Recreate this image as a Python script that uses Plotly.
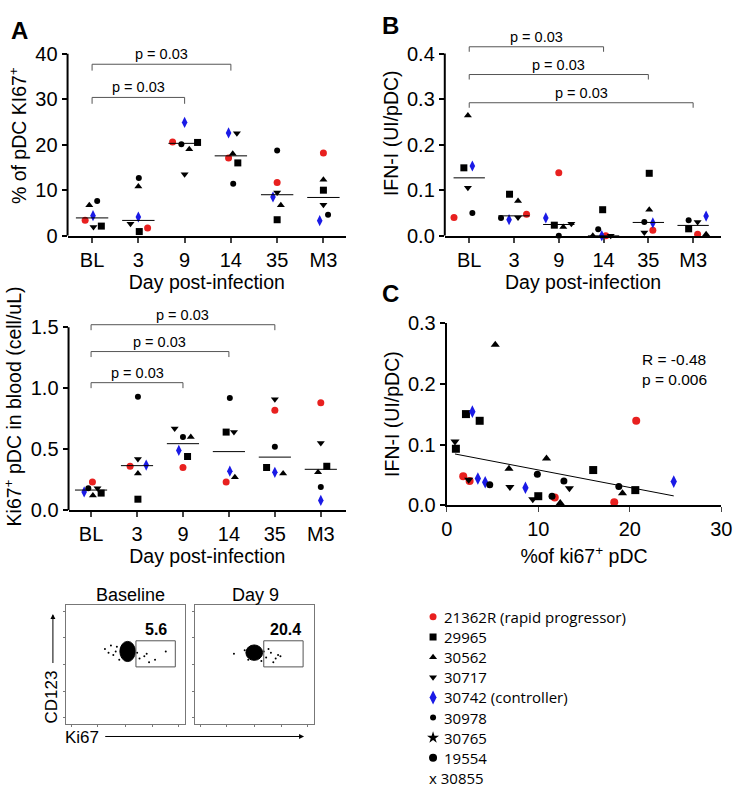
import numpy as np
import plotly.graph_objects as go

W, H = 747, 800
days = ["BL", "3", "9", "14", "35", "M3"]
subjects = ["21362R", "29965", "30562", "30717", "30742", "30978"]
symbols = ["circle", "square", "triangle-up", "triangle-down", "diamond-tall", "circle"]
colors = ["#e8201f", "black", "black", "black", "#1a1ae6", "black"]
sizes = [7, 7, 7, 7, 8, 6]

# Panel A top: % of pDC Ki67+ (per subject, per day)
ki67_pct = {
    "21362R": [3.4, 1.7, 20.6, 17.1, 11.7, 18.2],
    "29965":  [2.1, 0.9, 20.5, 16.0, 3.5, 10.0],
    "30562":  [6.7, 10.8, 19.0, 18.0, 6.7, 12.3],
    "30717":  [1.9, 2.6, 13.5, 22.5, 9.5, 6.8],
    "30742":  [4.4, 4.1, 24.9, 22.6, 8.5, 3.3],
    "30978":  [7.6, 12.7, 20.1, 11.4, 18.7, 4.6],
}
ki67_pct_jit = {
    "21362R": [-0.15, 0.2, -0.26, -0.05, 0.0, 0.0],
    "29965":  [0.2, 0.02, 0.28, 0.15, 0.0, 0.0],
    "30562":  [-0.06, 0.0, 0.1, 0.04, 0.08, 0.0],
    "30717":  [0.03, -0.17, 0.0, 0.13, 0.0, 0.0],
    "30742":  [0.02, 0.0, 0.0, -0.05, -0.09, -0.08],
    "30978":  [0.11, 0.01, -0.07, 0.05, 0.0, 0.1],
}
# Panel A bottom: Ki67+ pDC in blood (cell/uL)
ki67_abs = {
    "21362R": [0.23, 0.36, 0.35, 0.23, 0.82, 0.88],
    "29965":  [0.14, 0.09, 0.44, 0.64, 0.35, 0.36],
    "30562":  [0.12, 0.30, 0.60, 0.27, 0.30, 0.31],
    "30717":  [0.18, 0.42, 0.67, 0.64, 0.91, 0.55],
    "30742":  [0.15, 0.37, 0.49, 0.32, 0.31, 0.08],
    "30978":  [0.18, 0.93, 0.60, 0.92, 0.52, 0.19],
}
ki67_abs_jit = {
    "21362R": [0.03, -0.15, 0.0, -0.06, 0.0, 0.0],
    "29965":  [0.22, 0.02, 0.1, -0.06, -0.18, 0.13],
    "30562":  [0.04, 0.02, 0.17, 0.13, 0.18, -0.06],
    "30717":  [0.14, 0.02, -0.18, 0.11, 0.0, 0.0],
    "30742":  [-0.15, 0.2, -0.09, 0.02, 0.0, 0.0],
    "30978":  [-0.06, 0.02, 0.0, 0.02, 0.0, 0.0],
}
# Panel B: IFN-I (UI/pDC)
ifn = {
    "21362R": [0.040, 0.047, 0.138, 0.000, 0.012, 0.003],
    "29965":  [0.149, 0.091, 0.023, 0.057, 0.137, 0.015],
    "30562":  [0.264, 0.076, 0.019, 0.000, 0.057, 0.003],
    "30717":  [0.105, 0.040, 0.026, 0.000, 0.007, 0.030],
    "30742":  [0.153, 0.035, 0.039, 0.000, 0.028, 0.043],
    "30978":  [0.050, 0.039, 0.000, 0.014, 0.030, 0.034],
}
ifn_jit = {
    "21362R": [-0.34, 0.28, 0.0, 0.05, 0.1, 0.1],
    "29965":  [-0.12, -0.1, -0.1, -0.02, 0.02, -0.1],
    "30562":  [-0.03, 0.09, 0.1, -0.24, 0.02, 0.29],
    "30717":  [-0.03, 0.09, 0.28, 0.16, -0.09, 0.1],
    "30742":  [0.07, -0.11, -0.29, -0.04, 0.1, 0.29],
    "30978":  [0.07, -0.29, 0.0, -0.12, -0.09, -0.1],
}
# Panel C: %Ki67+ pDC vs IFN-I
c_x = {
    "21362R": [20.7, 1.8, 2.5, 11.8, 18.3],
    "29965":  [2.1, 3.6, 1.0, 10.0, 16.0, 20.6],
    "30562":  [5.3, 6.8, 10.9, 12.4, 19.2],
    "30717":  [0.9, 2.4, 6.9, 9.4, 13.4],
    "30742":  [2.8, 3.4, 4.2, 8.6, 24.8],
    "30978":  [4.7, 9.9, 11.5, 12.8, 18.8],
}
c_y = {
    "21362R": [0.139, 0.048, 0.040, 0.013, 0.005],
    "29965":  [0.150, 0.139, 0.093, 0.015, 0.058, 0.025],
    "30562":  [0.264, 0.060, 0.077, 0.004, 0.020],
    "30717":  [0.105, 0.042, 0.030, 0.010, 0.028],
    "30742":  [0.154, 0.044, 0.038, 0.029, 0.039],
    "30978":  [0.034, 0.051, 0.015, 0.040, 0.031],
}
legend_labels = ["21362R (rapid progressor)", "29965", "30562", "30717", "30742 (controller)",
                 "30978", "30765", "19554", "30855"]
legend_symbols = ["circle", "square", "triangle-up", "triangle-down", "diamond-tall",
                  "circle", "star", "circle", None]
legend_colors = ["#e8201f", "black", "black", "black", "#1a1ae6", "black", "black", "black", "black"]
legend_sizes = [7, 7, 7, 7, 10, 6, 9, 8, 0]

# flow sparse events (x,y in box fractions)
flow_bl_x = [0.33, 0.36, 0.40, 0.43, 0.62, 0.66, 0.70, 0.75, 0.84, 0.45, 0.60, 0.38, 0.42, 0.68]
flow_bl_y = [0.63, 0.60, 0.58, 0.65, 0.55, 0.57, 0.52, 0.54, 0.61, 0.54, 0.60, 0.66, 0.61, 0.59]
flow_d9_x = [0.33, 0.42, 0.60, 0.64, 0.68, 0.70, 0.62, 0.66, 0.58, 0.45, 0.72, 0.56]
flow_d9_y = [0.59, 0.62, 0.56, 0.60, 0.55, 0.58, 0.63, 0.52, 0.61, 0.54, 0.57, 0.53]

FONT = "Liberation Sans, Arial, sans-serif"
fig = go.Figure()

def px_x(a, b):
    return [a / W, b / W]

def px_y(top, bottom):
    return [1 - bottom / H, 1 - top / H]

def dot_panel(xa, ya, data, jit):
    for k, s in enumerate(subjects):
        xs = [i + jit[s][i] for i in range(6)]
        fig.add_trace(go.Scatter(x=xs, y=data[s], mode="markers", xaxis=xa, yaxis=ya,
                                 cliponaxis=False, showlegend=False,
                                 marker=dict(symbol=symbols[k], color=colors[k], size=sizes[k])))
    for i in range(6):
        med = float(np.median([data[s][i] for s in subjects]))
        fig.add_trace(go.Scatter(x=[i - 0.35, i + 0.35], y=[med, med], mode="lines",
                                 xaxis=xa, yaxis=ya, showlegend=False,
                                 line=dict(color="black", width=1)))

dot_panel("x", "y", ki67_pct, ki67_pct_jit)
dot_panel("x2", "y2", ki67_abs, ki67_abs_jit)
dot_panel("x3", "y3", ifn, ifn_jit)

allx, ally = [], []
for k, s in enumerate(subjects):
    fig.add_trace(go.Scatter(x=c_x[s], y=c_y[s], mode="markers", xaxis="x4", yaxis="y4",
                             cliponaxis=False, showlegend=False,
                             marker=dict(symbol=symbols[k], color=colors[k], size=sizes[k] + 1)))
    allx += c_x[s]; ally += c_y[s]
m, b = np.polyfit(allx, ally, 1)
lx = np.array([min(allx), max(allx)])
fig.add_trace(go.Scatter(x=lx, y=m * lx + b, mode="lines", xaxis="x4", yaxis="y4",
                         showlegend=False, line=dict(color="black", width=1)))

# flow events
fig.add_trace(go.Scatter(x=flow_bl_x, y=flow_bl_y, mode="markers", xaxis="x5", yaxis="y5",
                         showlegend=False, marker=dict(color="black", size=2)))
fig.add_trace(go.Scatter(x=flow_d9_x, y=flow_d9_y, mode="markers", xaxis="x6", yaxis="y6",
                         showlegend=False, marker=dict(color="black", size=2)))

# legend (overlay axis in page pixels)
for i, lab in enumerate(legend_labels):
    yy = 623 + i * 20.7
    if legend_symbols[i]:
        fig.add_trace(go.Scatter(x=[437], y=[yy], mode="markers", xaxis="x7", yaxis="y7",
                                 showlegend=False, marker=dict(symbol=legend_symbols[i],
                                 color=legend_colors[i], size=legend_sizes[i])))
        txt = lab
        xx = 446
    else:
        txt = "x " + lab
        xx = 431
    fig.add_annotation(x=xx, y=yy, xref="x7", yref="y7", text=txt, showarrow=False,
                       xanchor="left", yanchor="middle",
                       font=dict(family="Open Sans, sans-serif", size=15, color="black"))

TICK = dict(size=20, family=FONT, color="black")
TITLE = dict(size=19.5, family=FONT, color="black")
cat_axis = dict(tickmode="array", tickvals=list(range(6)), ticktext=days, showline=True,
                linecolor="black", linewidth=2, ticks="outside", ticklen=5, tickwidth=1.5,
                tickfont=TICK, showgrid=False, zeroline=False,
                title=dict(text="Day post-infection", font=TITLE, standoff=2))
def val_axis(rng, tv, tt, title):
    return dict(range=rng, tickmode="array", tickvals=tv, ticktext=tt, showline=False,
                ticks="outside", ticklen=5, tickwidth=1.5, tickcolor="black",
                tickfont=TICK, showgrid=False, zeroline=False,
                title=dict(text=title, font=TITLE, standoff=3))

layout = dict(
    width=W, height=H, margin=dict(l=0, r=0, t=0, b=0),
    plot_bgcolor="rgba(0,0,0,0)", paper_bgcolor="white",
    xaxis=dict(cat_axis, domain=px_x(63, 348), range=[-0.53, 5.49], anchor="y"),
    yaxis=dict(val_axis([0, 44], [0, 10, 20, 30, 40], ["0", "10", "20", "30", "40"],
                        "% of pDC KI67<sup>+</sup>"), domain=px_y(25.3, 231), anchor="x"),
    xaxis2=dict(cat_axis, domain=px_x(64, 348), range=[-0.49, 5.55], anchor="y2"),
    yaxis2=dict(val_axis([0, 1.7], [0, 0.5, 1.0, 1.5], ["0.0", "0.5", "1.0", "1.5"],
                         "Ki67<sup>+</sup> pDC in blood (cell/uL)"), domain=px_y(300, 513.3), anchor="x2"),
    xaxis3=dict(cat_axis, domain=px_x(449, 732), range=[-0.546, 5.63], anchor="y3"),
    yaxis3=dict(val_axis([0, 0.45], [0, 0.1, 0.2, 0.3, 0.4], ["0.0", "0.1", "0.2", "0.3", "0.4"],
                         "IFN-I (UI/pDC)"), domain=px_y(20.4, 231), anchor="x3"),
    xaxis4=dict(range=[0, 30], domain=px_x(451, 732), anchor="y4", tickvals=[0, 10, 20, 30],
                showline=True, linecolor="black", linewidth=2, ticks="outside", ticklen=5,
                tickfont=TICK, showgrid=False, zeroline=False,
                title=dict(text="%of ki67<sup>+</sup> pDC", font=TITLE, standoff=10)),
    yaxis4=dict(val_axis([0, 0.3], [0, 0.1, 0.2, 0.3], ["0.0", "0.1", "0.2", "0.3"], "IFN-I (UI/pDC)"),
                domain=px_y(320.7, 508.3), anchor="x4", showline=True, linecolor="black", linewidth=2),
)
flow_ax = dict(range=[0, 1], showline=True, mirror=True, linecolor="#777", linewidth=1,
               ticks="outside", ticklen=2, tickcolor="#777", tickvals=[0.05, 0.27, 0.5, 0.73, 0.95],
               showticklabels=False, showgrid=False, zeroline=False, fixedrange=True)
layout["xaxis5"] = dict(flow_ax, domain=px_x(61, 183), anchor="y5")
layout["yaxis5"] = dict(flow_ax, domain=px_y(611, 733), anchor="x5")
layout["xaxis6"] = dict(flow_ax, domain=px_x(193, 315), anchor="y6")
layout["yaxis6"] = dict(flow_ax, domain=px_y(611, 733), anchor="x6")
layout["xaxis7"] = dict(range=[0, W], domain=[0, 1], visible=False, anchor="y7")
layout["yaxis7"] = dict(range=[H, 0], domain=[0, 1], visible=False, anchor="x7")
fig.update_layout(**layout)

# y-axis lines drawn only up to top tick
for ya, xa, top in [("y", "x", 40), ("y2", "x2", 1.5), ("y3", "x3", 0.4)]:
    fig.add_shape(type="line", xref=xa + " domain", yref=ya, x0=0, x1=0, y0=0, y1=top,
                  line=dict(color="black", width=2))

def bracket(xa, ya, i0, i1, level, drop, gap):
    fig.add_shape(type="path", xref=xa, yref=ya,
                  path=f"M {i0},{level - drop} L {i0},{level} L {i1},{level} L {i1},{level - drop}",
                  line=dict(color="#555", width=1))
    fig.add_annotation(x=(i0 + i1) / 2, y=level + gap, xref=xa, yref=ya, text="p = 0.03",
                       showarrow=False, yanchor="bottom",
                       font=dict(size=14.5, family=FONT, color="black"))

bracket("x", "y", 0, 2, 30.4, 1.4, 0.0)
bracket("x", "y", 0, 3, 37.7, 1.4, 0.0)
bracket("x2", "y2", 0, 2, 1.045, 0.045, 0.0)
bracket("x2", "y2", 0, 3, 1.30, 0.045, 0.0)
bracket("x2", "y2", 0, 4, 1.52, 0.045, 0.0)
bracket("x3", "y3", 0, 3, 0.415, 0.011, 0.0)
bracket("x3", "y3", 0, 4, 0.354, 0.011, 0.0)
bracket("x3", "y3", 0, 5, 0.292, 0.011, 0.0)

fig.add_annotation(x=0.83, y=0.63, xref="x4 domain", yref="y4 domain", text="R = -0.48<br>p = 0.006",
                   showarrow=False, xanchor="center", yanchor="bottom", align="left",
                   font=dict(size=15.5, family=FONT, color="black"))

# flow cloud, gates, labels
for xa, ya, cx, cy, rx, ry, gx0, gx1, lab in [("x5", "y5", 0.52, 0.61, 0.065, 0.085, 0.59, 0.92, "5.6"),
                                             ("x6", "y6", 0.50, 0.60, 0.07, 0.065, 0.58, 0.91, "20.4")]:
    fig.add_shape(type="circle", xref=xa, yref=ya, x0=cx - rx, x1=cx + rx, y0=cy - ry, y1=cy + ry,
                  fillcolor="black", line=dict(color="black", width=1))
    fig.add_shape(type="rect", xref=xa, yref=ya, x0=gx0, x1=gx1, y0=0.48, y1=0.70,
                  line=dict(color="#555", width=1))
    fig.add_annotation(x=0.76, y=0.71, xref=xa, yref=ya, text=f"<b>{lab}</b>", showarrow=False,
                       yanchor="bottom", font=dict(size=16, family=FONT, color="black"))

page_txt = [
    (14, 20, "<b>A</b>", 24), (393, 15, "<b>B</b>", 24), (393, 290, "<b>C</b>", 24),
    (127, 600, "Baseline", 18), (255, 600, "Day 9", 18), (78, 747, "Ki67", 17),
]
for x, y, t, sz in page_txt:
    fig.add_annotation(x=x, y=y, xref="x7", yref="y7", text=t, showarrow=False,
                       font=dict(size=sz, family=FONT, color="black"))
fig.add_annotation(x=47, y=705, xref="x7", yref="y7", text="CD123", textangle=-90,
                   showarrow=False, font=dict(size=17, family=FONT, color="black"))
fig.add_annotation(x=48, y=620, ax=48, ay=672, xref="x7", yref="y7", axref="x7", ayref="y7",
                   text="", showarrow=True, arrowhead=2, arrowsize=1, arrowwidth=1, arrowcolor="black")
fig.add_annotation(x=305, y=746, ax=100, ay=746, xref="x7", yref="y7", axref="x7", ayref="y7",
                   text="", showarrow=True, arrowhead=2, arrowsize=1, arrowwidth=1, arrowcolor="black")

fig.write_html("out.html", config={"displayModeBar": False},
               post_script="document.body.style.margin='0';document.body.style.overflow='hidden';")
